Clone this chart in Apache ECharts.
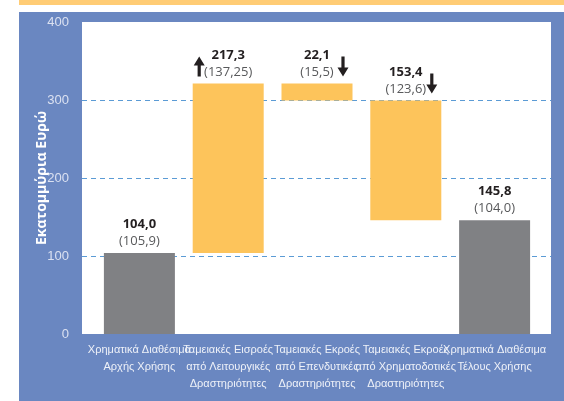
<!DOCTYPE html>
<html><head><meta charset="utf-8">
<script src="https://cdn.jsdelivr.net/npm/echarts@6/dist/echarts.min.js"></script>
<style>html,body{margin:0;padding:0;background:#fff}#c{width:564px;height:401px}</style>
</head><body><div id="c"></div>
<script>
const categories = ['Χρηματικά Διαθέσιμα\nΑρχής Χρήσης', 'Ταμειακές Εισροές\nαπό Λειτουργικές\nΔραστηριότητες', 'Ταμειακές Εκροές\nαπό Επενδυτικές\nΔραστηριότητες', 'Ταμειακές Εκροές\nαπό Χρηματοδοτικές\nΔραστηριότητες', 'Χρηματικά Διαθέσιμα\nΤέλους Χρήσης'];
const values = [104.0, 217.3, 22.1, 153.4, 145.8];
const kinds = ['total', 'up', 'down', 'down', 'total'];
const prevLabels = ['105,9', '137,25', '15,5', '123,6', '104,0'];
const yTicks = [0, 100, 200, 300, 400];

// waterfall bases
const bases = [];
let run = 0;
values.forEach((v, i) => {
  if (kinds[i] === 'total') { bases.push(0); run = v; }
  else if (kinds[i] === 'up') { bases.push(run); run += v; }
  else { run -= v; bases.push(run); }
});
const tops = values.map((v, i) => bases[i] + v);
const fmt = v => v.toFixed(1).replace('.', ',');

const chart = echarts.init(document.getElementById('c'), null, {renderer: 'canvas'});
const FONT = '"Liberation Sans", sans-serif';
chart.setOption({
  backgroundColor: '#ffffff',
  animation: false,
  graphic: [
    {type: 'rect', z: -100, shape: {x: 19, y: 12, width: 545, height: 389}, style: {fill: '#6a87c1'}},
    {type: 'rect', z: -100, shape: {x: 19, y: 0, width: 545, height: 5}, style: {fill: '#ffcc75'}}
  ],
  grid: [
    {left: 82, right: 13, top: 22, bottom: 67, show: true, backgroundColor: '#ffffff', borderWidth: 0},
    {left: 95, right: 25, top: 22, bottom: 67}
  ],
  xAxis: [
    {type: 'category', gridIndex: 0, data: categories, show: false},
    {type: 'category', gridIndex: 1, data: categories,
     axisLine: {show: false}, axisTick: {show: false},
     axisLabel: {interval: 0, color: '#eef1f8', fontFamily: FONT, fontSize: 11, lineHeight: 17, margin: 7}}
  ],
  yAxis: [
    {type: 'value', gridIndex: 0, min: 0, max: 400, interval: 100,
     name: 'Εκατομμύρια Ευρώ', nameLocation: 'middle', nameRotate: 90, nameGap: 33, nameMoveOverlap: false,
     nameTextStyle: {color: '#ffffff', fontWeight: 'bold', fontSize: 14, fontFamily: '"Open Sans", sans-serif'},
     axisLine: {show: false}, axisTick: {show: false},
     axisLabel: {color: '#dbe1f1', fontSize: 13, fontFamily: FONT, margin: 13, padding: [6, 0, 0, 0],
                 formatter: v => yTicks.includes(v) ? String(v) : ''},
     splitLine: {show: true, showMinLine: false, showMaxLine: false, lineStyle: {color: '#5b9bd5', type: [5, 4], width: 1}}},
    {type: 'value', gridIndex: 1, min: 0, max: 400, interval: 100, show: false, splitLine: {show: false}}
  ],
  series: [
    {type: 'bar', xAxisIndex: 1, yAxisIndex: 1, stack: 'w', data: bases, barWidth: 71,
     itemStyle: {color: 'transparent'}, silent: true},
    {type: 'bar', xAxisIndex: 1, yAxisIndex: 1, stack: 'w', barWidth: 71,
     data: values.map((v, i) => ({value: v, itemStyle: {color: kinds[i] === 'total' ? '#808184' : '#fdc45b'}})),
     label: {show: true, position: 'top', distance: 3,
       formatter: p => '{b|' + fmt(values[p.dataIndex]) + '}\n{n|(' + prevLabels[p.dataIndex] + ')}',
       rich: {
         b: {fontWeight: 'bold', fontSize: 13, color: '#231f20', fontFamily: '"Open Sans", sans-serif', lineHeight: 17, align: 'center'},
         n: {fontSize: 13, color: '#58595b', fontFamily: '"Open Sans", sans-serif', lineHeight: 17, align: 'center'}
       }}},
    {type: 'custom', xAxisIndex: 1, yAxisIndex: 1, silent: true, z: 5,
     data: tops.map((t, i) => [i, t]),
     renderItem: function (params, api) {
       const i = api.value(0);
       const k = kinds[i];
       if (k === 'total') return null;
       const p = api.coord([i, api.value(1)]);
       const dx = k === 'up' ? -29 : 26;
       const cx = p[0] + dx;
       const yTop = p[1] - 27, yBot = p[1] - 7;
       const hw = 5.5, sw = 1.6, hh = 9;
       let pts;
       if (k === 'up') {
         pts = [[cx, yTop], [cx + hw, yTop + hh], [cx + sw, yTop + hh], [cx + sw, yBot], [cx - sw, yBot], [cx - sw, yTop + hh], [cx - hw, yTop + hh]];
       } else {
         pts = [[cx, yBot], [cx + hw, yBot - hh], [cx + sw, yBot - hh], [cx + sw, yTop], [cx - sw, yTop], [cx - sw, yBot - hh], [cx - hw, yBot - hh]];
       }
       return {type: 'polygon', shape: {points: pts}, style: {fill: '#231f20'}};
     }}
  ]
});
</script></body></html>
